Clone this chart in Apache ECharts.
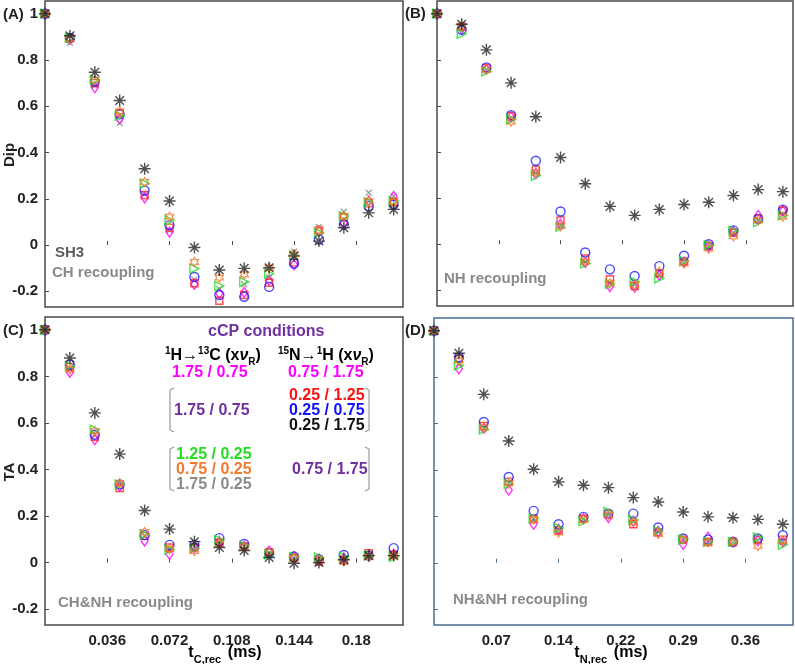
<!DOCTYPE html>
<html>
<head>
<meta charset="utf-8">
<script src="https://cdn.jsdelivr.net/npm/echarts@6/dist/echarts.min.js"></script>
<style>
  html, body { margin: 0; padding: 0; background: #fff; }
  #chart { width: 795px; height: 664px; }
</style>
</head>
<body>
<div id="chart"></div>
<script>
// recoupling times (ms)
var tC = [0, 0.0144, 0.0288, 0.0432, 0.0576, 0.072, 0.0864, 0.1008, 0.1152, 0.1296, 0.144, 0.1584, 0.1728, 0.1872, 0.2016];
var tN = [0, 0.0288, 0.0576, 0.0864, 0.1152, 0.144, 0.1728, 0.2016, 0.2304, 0.2592, 0.288, 0.3168, 0.3456, 0.3744, 0.4032];

var ticksC = [0.036, 0.072, 0.108, 0.144, 0.18];
var ticksN = [0.072, 0.144, 0.216, 0.288, 0.36];
var ticksY = [-0.2, 0, 0.2, 0.4, 0.6, 0.8, 1];

// rows: magenta, red, blue, black, green, orange, gray
var dipCH = [
  [1, 0.89, 0.681, 0.546, 0.204, 0.056, -0.17, -0.21, -0.205, -0.152, -0.085, 0.06, 0.096, 0.19, 0.21],
  [1, 0.895, 0.70, 0.57, 0.216, 0.075, -0.165, -0.241, -0.216, -0.163, -0.075, 0.063, 0.12, 0.18, 0.185],
  [1, 0.895, 0.707, 0.565, 0.236, 0.086, -0.138, -0.216, -0.224, -0.181, -0.08, 0.024, 0.089, 0.168, 0.175],
  [1, 0.905, 0.747, 0.625, 0.33, 0.19, -0.011, -0.108, -0.101, -0.098, -0.047, 0.017, 0.075, 0.139, 0.154],
  [1, 0.895, 0.714, 0.559, 0.266, 0.106, -0.102, -0.177, -0.159, -0.124, -0.045, 0.053, 0.125, 0.185, 0.19],
  [1, 0.89, 0.714, 0.578, 0.272, 0.122, -0.073, -0.141, -0.127, -0.098, -0.04, 0.063, 0.125, 0.19, 0.187],
  [1, 0.875, 0.69, 0.527, 0.221, 0.063, -0.15, -0.19, -0.17, -0.14, -0.029, 0.078, 0.144, 0.226, 0.211]
];
var dipNH = [
  [1, 0.935, 0.76, 0.552, 0.305, 0.087, -0.08, -0.184, -0.186, -0.135, -0.078, -0.01, 0.055, 0.125, 0.145],
  [1, 0.944, 0.765, 0.556, 0.323, 0.103, -0.062, -0.152, -0.181, -0.126, -0.075, -0.007, 0.05, 0.11, 0.145],
  [1, 0.93, 0.767, 0.56, 0.362, 0.142, -0.036, -0.109, -0.138, -0.095, -0.05, 0.0, 0.06, 0.11, 0.15],
  [1, 0.954, 0.843, 0.70, 0.553, 0.376, 0.262, 0.164, 0.125, 0.151, 0.172, 0.182, 0.211, 0.237, 0.228],
  [1, 0.912, 0.75, 0.542, 0.297, 0.075, -0.083, -0.172, -0.162, -0.148, -0.073, -0.004, 0.058, 0.096, 0.125],
  [1, 0.944, 0.757, 0.532, 0.312, 0.078, -0.076, -0.169, -0.175, -0.12, -0.083, -0.019, 0.034, 0.104, 0.12],
  [1, 0.94, 0.755, 0.545, 0.31, 0.08, -0.078, -0.17, -0.175, -0.13, -0.08, -0.01, 0.05, 0.105, 0.13]
];
var taCH = [
  [1, 0.817, 0.528, 0.328, 0.093, 0.036, 0.065, 0.09, 0.07, 0.05, 0.025, 0.015, 0.02, 0.03, 0.035],
  [1, 0.84, 0.54, 0.32, 0.115, 0.065, 0.065, 0.085, 0.07, 0.045, 0.02, 0.005, 0.01, 0.04, 0.035],
  [1, 0.85, 0.549, 0.336, 0.118, 0.076, 0.076, 0.105, 0.08, 0.04, 0.026, 0.015, 0.033, 0.03, 0.062],
  [1, 0.879, 0.643, 0.466, 0.224, 0.144, 0.09, 0.065, 0.052, 0.022, -0.003, 0.0, 0.012, 0.03, 0.03],
  [1, 0.845, 0.571, 0.336, 0.12, 0.056, 0.06, 0.097, 0.072, 0.035, 0.025, 0.022, 0.025, 0.03, 0.025],
  [1, 0.829, 0.565, 0.341, 0.131, 0.058, 0.05, 0.08, 0.065, 0.045, 0.02, 0.01, 0.005, 0.025, 0.03],
  [1, 0.835, 0.55, 0.335, 0.115, 0.06, 0.07, 0.085, 0.07, 0.04, 0.02, 0.01, 0.015, 0.03, 0.03]
];
var taNH = [
  [1, 0.836, 0.58, 0.313, 0.166, 0.145, 0.19, 0.195, 0.18, 0.135, 0.08, 0.11, 0.09, 0.095, 0.09],
  [1, 0.88, 0.59, 0.35, 0.19, 0.14, 0.19, 0.21, 0.166, 0.131, 0.1, 0.09, 0.09, 0.1, 0.1],
  [1, 0.886, 0.607, 0.37, 0.224, 0.166, 0.198, 0.212, 0.212, 0.152, 0.105, 0.1, 0.09, 0.105, 0.119],
  [1, 0.903, 0.726, 0.525, 0.403, 0.349, 0.334, 0.324, 0.281, 0.262, 0.219, 0.198, 0.194, 0.187, 0.166],
  [1, 0.85, 0.575, 0.34, 0.19, 0.15, 0.18, 0.219, 0.185, 0.139, 0.1, 0.09, 0.09, 0.11, 0.077],
  [1, 0.872, 0.583, 0.343, 0.186, 0.131, 0.188, 0.205, 0.175, 0.125, 0.1, 0.088, 0.09, 0.073, 0.095],
  [1, 0.86, 0.58, 0.345, 0.19, 0.14, 0.19, 0.205, 0.18, 0.135, 0.1, 0.09, 0.09, 0.095, 0.09]
];

var FONT = '"Liberation Sans", Arial, sans-serif';
var PURPLE = '#7030a0';

// marker styles, same order as the data rows
var asterisk = 'path://M0,-10L0,10M-10,0L10,0M-7.1,-7.1L7.1,7.1M-7.1,7.1L7.1,-7.1';
var hexagram = 'path://M0,-10L2.89,-5L8.66,-5L5.77,0L8.66,5L2.89,5L0,10L-2.89,5L-8.66,5L-5.77,0L-8.66,-5L-2.89,-5Z';
var cross = 'path://M-10,-10L10,10M-10,10L10,-10';
var marks = [
  {name: '1.75/0.75 + 0.75/1.75', color: '#ff00ff', symbol: 'diamond', size: [7, 10], rot: 0, z: 2},
  {name: '1.75/0.75 + 0.25/1.25', color: '#ff2020', symbol: 'rect', size: 7, rot: 0, z: 2},
  {name: '1.75/0.75 + 0.25/0.75', color: '#1a1aff', symbol: 'circle', size: 9, rot: 0, z: 2},
  {name: '1.75/0.75 + 0.25/1.75', color: '#222222', symbol: asterisk, size: 12, rot: 0, z: 5},
  {name: '1.25/0.25 + 0.75/1.75', color: '#22dd22', symbol: 'triangle', size: 9, rot: -90, z: 3},
  {name: '0.75/0.25 + 0.75/1.75', color: '#f07a30', symbol: hexagram, size: [8, 9], rot: 0, z: 4},
  {name: '1.75/0.25 + 0.75/1.75', color: '#888888', symbol: cross, size: 6, rot: 0, z: 1}
];

var panels = [
  {t: tC, rows: dipCH},
  {t: tN, rows: dipNH},
  {t: tC, rows: taCH},
  {t: tN, rows: taNH}
];

var series = [];
panels.forEach(function (p, k) {
  marks.forEach(function (m, j) {
    series.push({
      name: m.name,
      type: 'scatter',
      xAxisIndex: k,
      yAxisIndex: k,
      clip: false,
      symbol: m.symbol,
      symbolSize: m.size,
      symbolRotate: m.rot,
      z: m.z,
      itemStyle: {color: 'rgba(0,0,0,0)', borderColor: m.color, borderWidth: 1.4},
      data: p.t.map(function (t, i) { return [t, p.rows[j][i]]; })
    });
  });
});

var frame = '#4a4a4a';
var frameD = '#4a6e96';
function grid(l, t, w, h, c) {
  return {left: l, top: t, width: w, height: h, outerBoundsMode: 'none', containLabel: false,
    show: true, borderColor: c, borderWidth: 1.5, backgroundColor: '#fff'};
}
var labelStyle = {fontFamily: FONT, fontWeight: 'bold', fontSize: 15, color: '#222'};

function xAxis(k, max, ticks, showLabel, fmt) {
  return {
    type: 'value', gridIndex: k, min: 0, max: max,
    axisLine: {show: false},
    splitLine: {show: false},
    axisTick: {show: true, inside: true, length: 4, customValues: ticks, lineStyle: {color: k === 3 ? frameD : frame}},
    axisLabel: Object.assign({show: showLabel, customValues: ticks, margin: 8, formatter: fmt}, labelStyle)
  };
}
function yAxis(k, showLabel) {
  return {
    type: 'value', gridIndex: k, min: -0.268, max: 1.055,
    axisLine: {show: false},
    splitLine: {show: false},
    axisTick: {show: true, inside: true, length: 4, customValues: ticksY, lineStyle: {color: k === 3 ? frameD : frame}},
    axisLabel: Object.assign({show: showLabel, customValues: ticksY, margin: 7}, labelStyle)
  };
}

function txt(x, y, s, color, size, extra) {
  return Object.assign({
    type: 'text', x: x, y: y, z: 10,
    style: {text: s, fill: color, font: 'bold ' + size + 'px ' + FONT, textVerticalAlign: 'middle'}
  }, extra || {});
}
function bracket(x, y1, y2, dir) {
  var d = 4 * dir;
  return {
    type: 'polyline', z: 10,
    shape: {points: [[x + d, y1], [x, y1 + 2], [x, y2 - 2], [x + d, y2]]},
    style: {stroke: '#999', lineWidth: 1.2, fill: null}
  };
}

var richHead = {
  m: {fontFamily: FONT, fontWeight: 'bold', fontSize: 16, color: PURPLE, lineHeight: 20, verticalAlign: 'bottom'},
  sup: {fontFamily: FONT, fontWeight: 'bold', fontSize: 10, color: PURPLE, lineHeight: 20, verticalAlign: 'top', padding: [2, 0, 0, 0]},
  nu: {fontFamily: FONT, fontWeight: 'bold', fontStyle: 'italic', fontSize: 16, color: PURPLE, lineHeight: 20, verticalAlign: 'bottom'},
  sub: {fontFamily: FONT, fontWeight: 'bold', fontSize: 10, color: PURPLE, lineHeight: 20, verticalAlign: 'bottom', padding: [0, 0, -3, 0]}
};
function head(x, y, s) {
  return {type: 'text', x: x, y: y, z: 10, style: {text: s, rich: richHead, textVerticalAlign: 'middle'}};
}
var richName = {
  t: {fontFamily: FONT, fontWeight: 'bold', fontSize: 16, color: '#222', lineHeight: 24, verticalAlign: 'middle'},
  s: {fontFamily: FONT, fontWeight: 'bold', fontSize: 11, color: '#222', lineHeight: 12, verticalAlign: 'bottom'}
};
function axisName(x, y, sub) {
  return {type: 'text', x: x, y: y, z: 10,
    style: {text: '{t|t}{s|' + sub + '}  {t|(ms)}', rich: richName, textAlign: 'center', textVerticalAlign: 'middle'}};
}

var graphics = [
  txt(3, 15, '(A)', '#222', 15),
  txt(405, 14, '(B)', '#222', 15),
  txt(3, 331, '(C)', '#222', 15),
  txt(405, 331, '(D)', '#222', 15),
  txt(10, 155, 'Dip', '#222', 15, {rotation: Math.PI / 2, style: {text: 'Dip', fill: '#222', font: 'bold 15px ' + FONT, textAlign: 'center', textVerticalAlign: 'middle'}}),
  txt(10, 472, 'TA', '#222', 15, {rotation: Math.PI / 2, style: {text: 'TA', fill: '#222', font: 'bold 15px ' + FONT, textAlign: 'center', textVerticalAlign: 'middle'}}),
  axisName(225, 653, 'C,rec'),
  axisName(611, 653, 'N,rec'),
  txt(55, 253, 'SH3', '#5c5c5c', 15),
  txt(52, 273, 'CH recoupling', '#8a8a8a', 15),
  txt(444, 279, 'NH recoupling', '#8a8a8a', 15),
  txt(58, 603, 'CH&NH recoupling', '#8a8a8a', 15),
  txt(453, 600, 'NH&NH recoupling', '#8a8a8a', 15),
  txt(208, 332, 'cCP conditions', PURPLE, 16),
  head(165, 354, '{sup|1}{m|H→}{sup|13}{m|C (x}{nu|ν}{sub|R}{m|)}'),
  head(278, 354, '{sup|15}{m|N→}{sup|1}{m|H (x}{nu|ν}{sub|R}{m|)}'),
  txt(172, 373, '1.75 / 0.75', '#ff00ff', 16),
  txt(288, 373, '0.75 / 1.75', '#ff00ff', 16),
  bracket(170, 388, 432, 1),
  bracket(369, 388, 432, -1),
  txt(174, 411, '1.75 / 0.75', PURPLE, 16),
  txt(289, 396, '0.25 / 1.25', '#ff1010', 16),
  txt(289, 411, '0.25 / 0.75', '#1010ff', 16),
  txt(289, 426, '0.25 / 1.75', '#111', 16),
  bracket(170, 447, 491, 1),
  bracket(369, 447, 491, -1),
  txt(176, 455, '1.25 / 0.25', '#22dd22', 16),
  txt(176, 470, '0.75 / 0.25', '#f07a30', 16),
  txt(176, 485, '1.75 / 0.25', '#8a8a8a', 16),
  txt(292, 470, '0.75 / 1.75', PURPLE, 16)
];

var chart = echarts.init(document.getElementById('chart'));
chart.setOption({
  animation: false,
  backgroundColor: '#fff',
  grid: [
    grid(45, 1, 358, 306, frame),
    grid(437, 1, 356, 305, frame),
    grid(45, 317, 358, 308, frame),
    grid(434, 318, 359, 307, frameD)
  ],
  xAxis: [
    xAxis(0, 0.207, ticksC, false),
    xAxis(1, 0.415, ticksN, false),
    xAxis(2, 0.207, ticksC, true, function (v) { return String(v); }),
    xAxis(3, 0.415, ticksN, true, function (v) { return v.toFixed(2); })
  ],
  yAxis: [yAxis(0, true), yAxis(1, false), yAxis(2, true), yAxis(3, false)],
  series: series,
  graphic: graphics
});
</script>
</body>
</html>
